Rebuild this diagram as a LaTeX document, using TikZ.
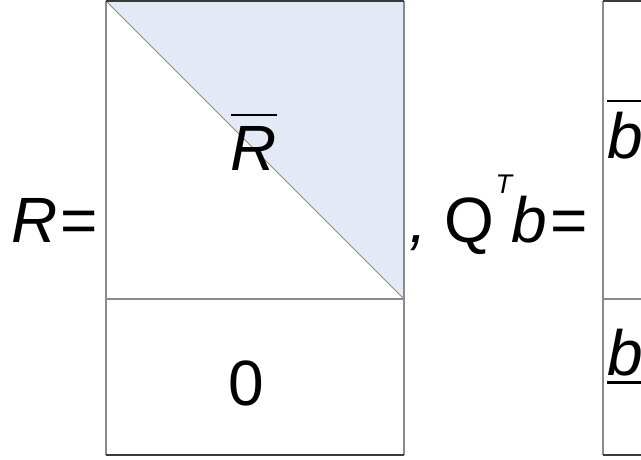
\documentclass[tikz,border=0pt]{standalone}
\usepackage{fontspec}
\setmainfont{Liberation Sans}
\usepackage{tikz}
\usetikzlibrary{positioning,calc}
\definecolor{triblue}{RGB}{227,234,246}
\definecolor{edgegray}{RGB}{138,138,138}
\definecolor{edgedark}{RGB}{58,58,58}
\newcommand{\topbar}[1]{\vbox{\hrule height 2.6pt \kern 9.5pt \hbox{#1}}}
\newcommand{\lowbar}[1]{\vtop{\hbox{#1}\kern 5.5pt \hrule height 2.6pt}}
\tikzset{
  lbl/.style={inner sep=0pt, anchor=base},
  side/.style={edgegray, line width=1.3pt},
  rim/.style={edgedark, line width=1.3pt},
}
\begin{document}
\begin{tikzpicture}[x=1pt, y=-1pt, font=\fontsize{64}{70}\selectfont]
  \useasboundingbox (0,0) rectangle (641,459);
  % block geometry
  \def\xa{106} \def\xb{404} \def\xc{603} \def\xd{641}
  \def\ytop{1} \def\ymid{299} \def\ybot{455}
  % R block
  \fill[triblue] (\xa,\ytop) -- (\xb,\ytop) -- (\xb,\ymid) -- cycle;
  \draw[edgegray, line width=0.9pt] (\xa,\ytop) -- (\xb,\ymid);
  \draw[side] (\xa,\ytop) -- (\xa,\ybot);
  \draw[side] (\xb,\ytop) -- (\xb,\ybot);
  \draw[side] (\xa,\ymid) -- (\xb,\ymid);
  \draw[rim] (\xa,\ytop) -- (\xb,\ytop);
  \draw[rim] (\xa,\ybot) -- (\xb,\ybot);
  % Q^T b block
  \draw[side] (\xc,\ytop) -- (\xc,\ybot);
  \draw[side] (\xc,\ymid) -- (\xd,\ymid);
  \draw[rim] (\xc,\ytop) -- (\xd,\ytop);
  \draw[rim] (\xc,\ybot) -- (\xd,\ybot);
  % labels
  \node[lbl, anchor=base west] (req) at (11,242) {\textit{R\/}\kern3pt=};
  \node[lbl] (rbar) at (254,170) {\topbar{\textit{R}}};
  \node[lbl] (zero) at (246,405) {0};
  \node[lbl, anchor=base west] (qtb) at (409,242)
    {\textit{,} Q\kern1pt\raisebox{49pt}{\fontsize{27}{27}\selectfont\itshape T}\kern-1pt\textit{b\/}\kern4pt=};
  \node[lbl, anchor=base west] (btop) at (607,158) {\topbar{\textit{b}}};
  \node[lbl, anchor=base west] (bbot) at (607,375) {\lowbar{\textit{b}}};
\end{tikzpicture}
\end{document}
